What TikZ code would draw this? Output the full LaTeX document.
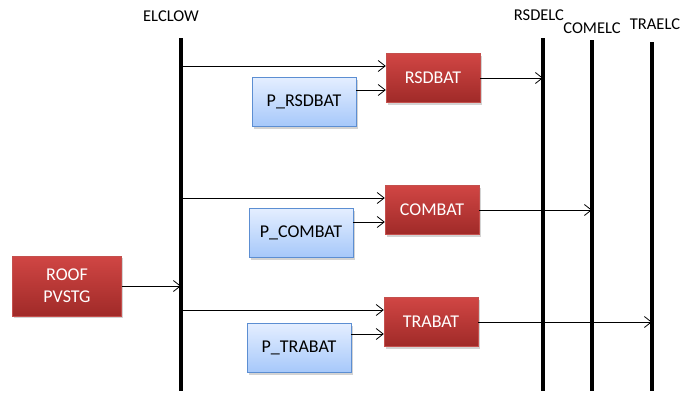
\documentclass[tikz,border=0pt]{standalone}
\usepackage{fontspec}
\setmainfont{Carlito}
\usetikzlibrary{arrows.meta, shadows, positioning}

\definecolor{redtop}{RGB}{208,70,68}
\definecolor{redbot}{RGB}{160,42,40}
\definecolor{redline}{RGB}{196,80,77}
\definecolor{bluetop}{RGB}{228,238,255}
\definecolor{bluebot}{RGB}{166,200,250}
\definecolor{blueline}{RGB}{92,142,210}

\begin{document}
\begin{tikzpicture}[
      x=1pt, y=-1pt,
      batbox/.style={
         rectangle,
         draw=redline,
         top color=redtop,
         bottom color=redbot,
         text=white,
         align=center,
         inner sep=0pt,
         minimum width=94pt,
         minimum height=49pt,
         drop shadow={opacity=0.35, shadow xshift=1.5pt, shadow yshift=-2pt},
         font=\fontsize{18}{22}\selectfont},
      pbox/.style={
         rectangle,
         draw=blueline,
         top color=bluetop,
         bottom color=bluebot,
         text=black,
         inner sep=0pt,
         minimum width=104pt,
         minimum height=49pt,
         drop shadow={opacity=0.35, shadow xshift=1.5pt, shadow yshift=-2pt},
         font=\fontsize{18}{22}\selectfont},
      buslabel/.style={inner sep=0pt, font=\fontsize{16.5}{20}\selectfont},
      bus/.style={line width=3.4pt},
      myarrow/.style={-{Straight Barb[length=7pt,width=11pt]}, line width=0.8pt}
      ]
      \useasboundingbox (0,0) rectangle (686,394);

      % buses: name/text/label x/label y/line x/line top
      \foreach \name/\txt/\lx/\ly/\x/\top in {%
        elclow/ELCLOW/171/16/181/38,
        rsdelc/RSDELC/539/15/543/38,
        comelc/COMELC/592/28/592/40,
        traelc/TRAELC/655/24/652/42}
      {
        \node[buslabel] (\name) at (\lx,\ly) {\txt};
        \coordinate (\name-top) at (\x,\top);
        \coordinate (\name-bot) at (\x,391);
        \draw[bus] (\name-top) -- (\name-bot);
      }

      % batteries and their P inputs: name/text/x/y/P x/P y
      \foreach \name/\txt/\x/\y/\px/\py in {%
        rsdbat/RSDBAT/433/78/304/102,
        combat/COMBAT/432/210/301/233,
        trabat/TRABAT/431/322/299/348}
      {
        \node[batbox] (\name) at (\x,\y) {\txt};
        \node[pbox] (p\name) at (\px,\py) {P\_\txt};
      }

      \node[batbox, minimum width=109pt, minimum height=60pt] (roof) at (67,286) {ROOF\\PVSTG};

      \foreach \b/\e in {rsdbat/rsdelc, combat/comelc, trabat/traelc}
      {
        \draw[myarrow] ([yshift=12pt]\b.west -| elclow-top) -- ([yshift=12pt]\b.west);
        \draw[myarrow] ([yshift=-12pt]\b.west -| p\b.east) -- ([yshift=-12pt]\b.west);
        \draw[myarrow] (\b.east) -- (\b.east -| \e-top);
      }

      \draw[myarrow] (roof) -- (roof -| elclow-top);
    \end{tikzpicture}
\end{document}
